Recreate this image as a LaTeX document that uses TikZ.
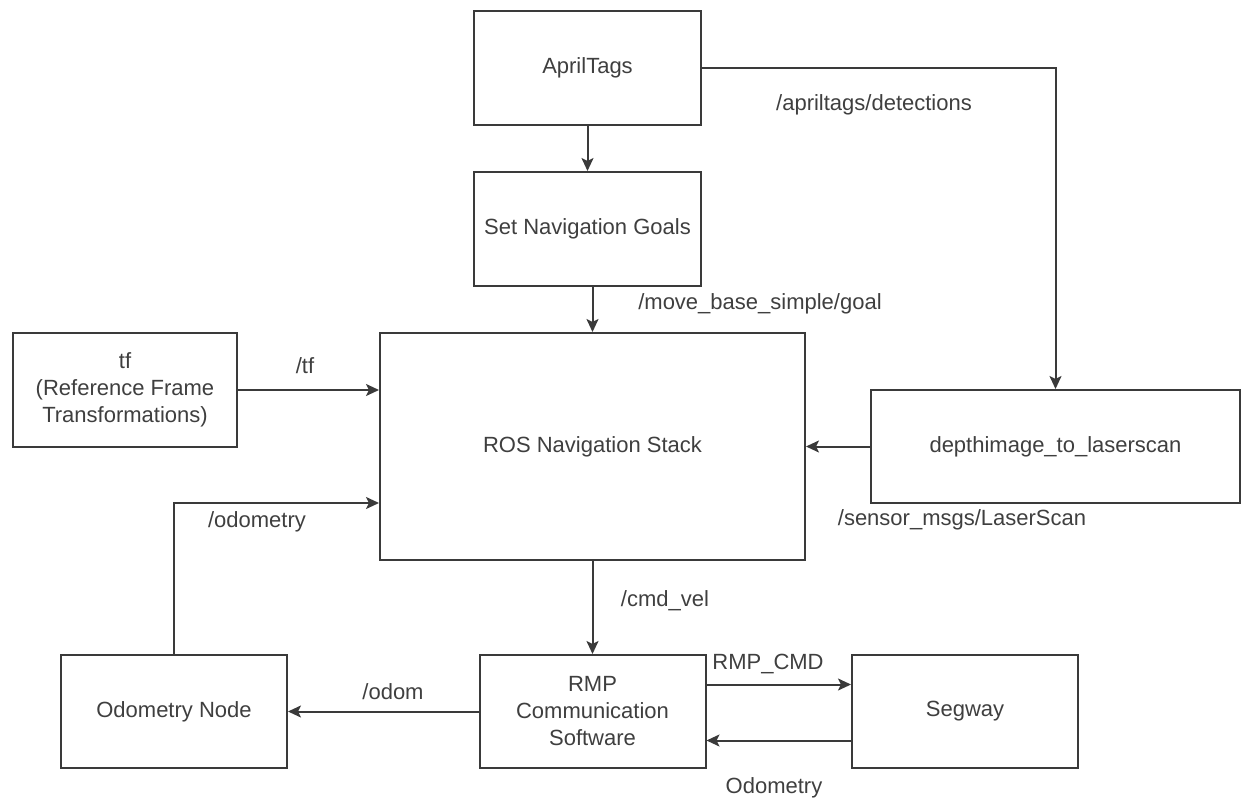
\documentclass[tikz,border=0pt]{standalone}
\usepackage{fontspec}
\setmainfont{Liberation Sans}
\usepackage{xcolor}
\usetikzlibrary{arrows.meta, positioning}
\definecolor{linegray}{HTML}{3A3A3A}
\definecolor{textgray}{HTML}{3F3F3F}

\begin{document}
\begin{tikzpicture}[x=1pt, y=-1pt,
    font=\fontsize{22}{27}\selectfont,
    block/.style={draw=linegray, line width=2pt, fill=white, align=center,
        text=textgray, inner sep=0pt},
    topic/.style={text=textgray, inner sep=1pt},
    link/.style={draw=linegray, line width=2pt,
        -{Stealth[length=13pt, width=12pt, inset=3pt]}}]

    \useasboundingbox (0,0) rectangle (1243,800);

    % Define the blocks
    \node[block, minimum width=227pt, minimum height=114pt] (april) at (587.5,68) {AprilTags};
    \node[block, minimum width=227pt, minimum height=114pt] (setnav) at (587.5,229) {Set Navigation Goals};
    \node[block, minimum width=425pt, minimum height=227pt] (ros) at (592.5,446.5) {ROS Navigation Stack};
    \node[block, minimum width=224pt, minimum height=114pt] (tf) at (125,390)
        {tf\\(Reference Frame\\Transformations)};
    \node[block, minimum width=369pt, minimum height=113pt] (depth) at (1055.5,446.5) {depthimage\_to\_laserscan};
    \node[block, minimum width=226pt, minimum height=113pt] (odomnode) at (174,711.5) {Odometry Node};
    \node[block, minimum width=226pt, minimum height=113pt] (rmp) at (592.5,711.5)
        {RMP\\Communication\\Software};
    \node[block, minimum width=226pt, minimum height=113pt] (segway) at (965,711.5) {Segway};

    \coordinate (odomin) at (ros.west |- 0,503);

    % Draw the connectors
    \draw[link] (april) -- (setnav);
    \draw[link] (ros.north |- setnav.south) -- (ros.north);
    \draw[link] (april.east) -| (depth.north);
    \draw[link] (tf.east) -- (ros.west |- tf.east);
    \draw[link] (depth.west) -- (ros.east |- depth.west);
    \draw[link] (odomnode.north) |- (odomin);
    \draw[link] (ros.south) -- (rmp.north);
    \draw[link] (rmp.west) -- (odomnode.east);
    \draw[link] ([yshift=27pt]rmp.east) -- ([yshift=27pt]segway.west);
    \draw[link] ([yshift=-29pt]segway.west) -- ([yshift=-29pt]rmp.east);

    % Label the topics
    \node[topic] (detections) at (874,105) {/apriltags/detections};
    \node[topic] (goal) at (760,304) {/move\_base\_simple/goal};
    \node[topic] (tftopic) at (305,366) {/tf};
    \node[topic] (laserscan) at (962,520) {/sensor\_msgs/LaserScan};
    \node[topic] (odometry) at (257,522) {/odometry};
    \node[topic] (cmdvel) at (665,601) {/cmd\_vel};
    \node[topic] (odom) at (393,692) {/odom};
    \node[topic] (rmpcmd) at (768,664) {RMP\_CMD};
    \node[topic] (segodom) at (774,788) {Odometry};
\end{tikzpicture}
\end{document}
